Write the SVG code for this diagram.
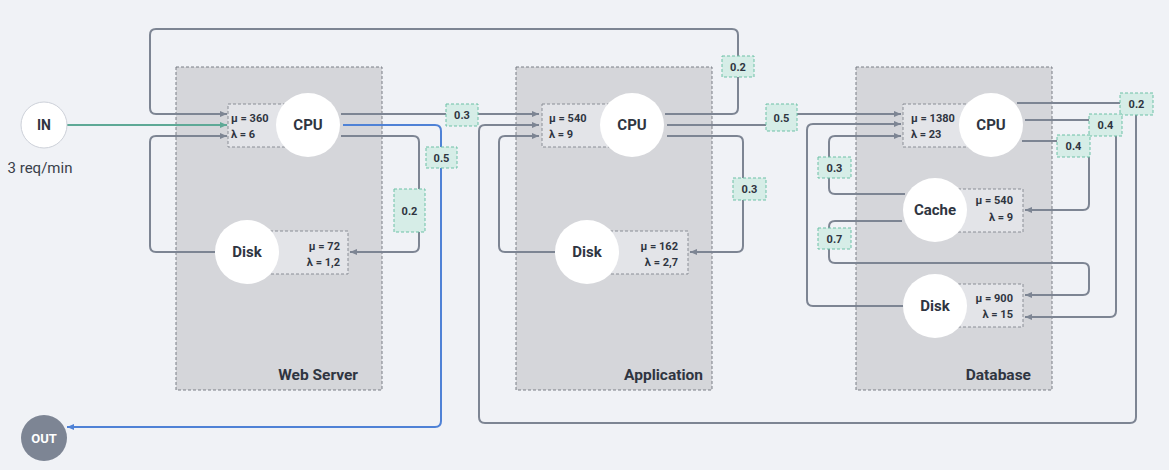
<svg xmlns="http://www.w3.org/2000/svg" width="1169" height="470" viewBox="0 0 1169 470">
<defs>
<style>
.grp{fill:#d5d6da;stroke:#7a7e86;stroke-width:1;stroke-dasharray:3 2}
.lbox{fill:#e3e4e8;stroke:#8a8e96;stroke-width:1;stroke-dasharray:3 2}
.node{fill:#ffffff}
.c{fill:none;stroke:#7d8593;stroke-width:2;marker-end:url(#ag)}
.green{fill:none;stroke:#5ea996;stroke-width:2;marker-end:url(#agr)}
.blue{fill:none;stroke:#4f82d6;stroke-width:2;marker-end:url(#ab)}
.pb{fill:#d6ede7;stroke:#6cc1a6;stroke-width:1;stroke-dasharray:3 2}
text{font-family:Roboto,"Liberation Sans",sans-serif;fill:#2f3541;font-weight:bold}
.t{font-size:11px}
.pt{font-size:11px;text-anchor:middle}
.nt{font-size:15px;text-anchor:middle}
.gt{font-size:15.5px;text-anchor:end}
.r{text-anchor:end}
</style>
<marker id="ag" markerUnits="userSpaceOnUse" markerWidth="8" markerHeight="8" viewBox="0 0 8 8" refX="7" refY="4" orient="auto"><path d="M0,1 L7,4 L0,7 z" fill="#7d8593"/></marker>
<marker id="agr" markerUnits="userSpaceOnUse" markerWidth="8" markerHeight="8" viewBox="0 0 8 8" refX="7" refY="4" orient="auto"><path d="M0,1 L7,4 L0,7 z" fill="#5ea996"/></marker>
<marker id="ab" markerUnits="userSpaceOnUse" markerWidth="8" markerHeight="8" viewBox="0 0 8 8" refX="7" refY="4" orient="auto"><path d="M0,1 L7,4 L0,7 z" fill="#4f82d6"/></marker>
</defs>
<rect width="1169" height="470" fill="#f0f2f6"/>

<g id="web-server">
<rect class="grp" x="176" y="67" width="206" height="323"/>
<text class="gt" x="358" y="380">Web Server</text>
</g>
<g id="application">
<rect class="grp" x="516" y="67" width="196" height="323"/>
<text class="gt" x="703" y="380">Application</text>
</g>
<g id="database">
<rect class="grp" x="856" y="67" width="196" height="323"/>
<text class="gt" x="1031" y="380">Database</text>
</g>

<g id="connectors">
<path class="green" d="M67,125 H227"/>
<path class="c" d="M341,114 H539"/>
<path class="blue" d="M343,125 H435 Q441,125 441,131 V421 Q441,427 435,427 H67"/>
<path class="c" d="M341,136 H413 Q419,136 419,142 V246 Q419,252 413,252 H350"/>
<path class="c" d="M215,252 H156 Q150,252 150,246 V142 Q150,136 156,136 H227"/>
<path class="c" d="M665,114 H732 Q738,114 738,108 V35 Q738,29 732,29 H156 Q150,29 150,35 V108 Q150,114 156,114 H227"/>
<path class="c" d="M667,136 H737 Q743,136 743,142 V246 Q743,252 737,252 H690"/>
<path class="c" d="M555,252 H505 Q499,252 499,246 V142 Q499,136 505,136 H539"/>
<path class="c" d="M667,125 H777 Q781,125 781,121 V118 Q781,114 785,114 H901"/>
<path class="c" d="M1017,103 H1130 Q1136,103 1136,109 V417 Q1136,423 1130,423 H485 Q479,423 479,417 V131 Q479,125 485,125 H539"/>
<path class="c" d="M1025,120 H1110 Q1116,120 1116,126 V311 Q1116,317 1110,317 H1025"/>
<path class="c" d="M1022,141 H1083 Q1089,141 1089,147 V204 Q1089,210 1083,210 H1025"/>
<path class="c" d="M905,194 H835 Q829,194 829,188 V142 Q829,136 835,136 H901"/>
<path class="c" d="M902,221 H835 Q829,221 829,227 V257 Q829,263 835,263 H1083 Q1089,263 1089,269 V289 Q1089,295 1083,295 H1025"/>
<path class="c" d="M905,306 H813 Q807,306 807,300 V130 Q807,124 813,124 H901"/>

<rect class="pb" x="446" y="104" width="32" height="22"/><text class="pt" x="462" y="119">0.3</text>
<rect class="pb" x="426" y="147" width="31" height="21"/><text class="pt" x="441.5" y="161.5">0.5</text>
<rect class="pb" x="394" y="189" width="31" height="43"/><text class="pt" x="409.5" y="214.5">0.2</text>
<rect class="pb" x="722" y="56" width="32" height="21"/><text class="pt" x="738" y="70.5">0.2</text>
<rect class="pb" x="733" y="178" width="33" height="22"/><text class="pt" x="749.5" y="193">0.3</text>
<rect class="pb" x="766" y="104" width="31" height="27"/><text class="pt" x="781.5" y="121.5">0.5</text>
<rect class="pb" x="1120" y="93" width="33" height="22"/><text class="pt" x="1136.5" y="108">0.2</text>
<rect class="pb" x="1089" y="114" width="33" height="22"/><text class="pt" x="1105.5" y="129">0.4</text>
<rect class="pb" x="1057" y="135" width="33" height="22"/><text class="pt" x="1073.5" y="150">0.4</text>
<rect class="pb" x="818" y="157" width="33" height="21"/><text class="pt" x="834.5" y="171.5">0.3</text>
<rect class="pb" x="818" y="228" width="33" height="21"/><text class="pt" x="834.5" y="242.5">0.7</text>
</g>

<g id="in">
<circle cx="44" cy="125" r="23" fill="#ffffff" stroke="#cdd1d9" stroke-width="1"/>
<text class="nt" x="44" y="130" style="font-size:14px">IN</text>
<text x="40" y="173" style="font-size:15px;font-weight:normal;text-anchor:middle;fill:#3a3f4a">3 req/min</text>
</g>
<g id="out">
<circle cx="44" cy="438" r="23" fill="#7d8594"/>
<text x="44" y="443" style="font-size:13px;text-anchor:middle;fill:#ffffff">OUT</text>
</g>

<g id="web-cpu">
<rect class="lbox" x="228" y="104" width="72" height="43"/>
<text class="t" x="231" y="122">μ = 360</text>
<text class="t" x="231" y="138">λ = 6</text>
<circle class="node" cx="308" cy="125" r="32"/>
<text class="nt" x="308" y="130">CPU</text>
</g>
<g id="web-disk">
<rect class="lbox" x="255" y="231" width="93" height="43"/>
<text class="t r" x="340" y="250">μ = 72</text>
<text class="t r" x="340" y="266">λ = 1,2</text>
<circle class="node" cx="247" cy="252" r="32"/>
<text class="nt" x="247" y="257">Disk</text>
</g>
<g id="app-cpu">
<rect class="lbox" x="542" y="104" width="78" height="43"/>
<text class="t" x="549" y="122">μ = 540</text>
<text class="t" x="549" y="138">λ = 9</text>
<circle class="node" cx="632" cy="125" r="32"/>
<text class="nt" x="632" y="130">CPU</text>
</g>
<g id="app-disk">
<rect class="lbox" x="595" y="231" width="93" height="43"/>
<text class="t r" x="678" y="250">μ = 162</text>
<text class="t r" x="678" y="266">λ = 2,7</text>
<circle class="node" cx="587" cy="252" r="32"/>
<text class="nt" x="587" y="257">Disk</text>
</g>
<g id="db-cpu">
<rect class="lbox" x="903" y="104" width="80" height="43"/>
<text class="t" x="911" y="122">μ = 1380</text>
<text class="t" x="911" y="138">λ = 23</text>
<circle class="node" cx="991" cy="125" r="32"/>
<text class="nt" x="991" y="130">CPU</text>
</g>
<g id="db-cache">
<rect class="lbox" x="943" y="189" width="80" height="43"/>
<text class="t r" x="1013" y="204">μ = 540</text>
<text class="t r" x="1013" y="221">λ = 9</text>
<circle class="node" cx="935" cy="210" r="32"/>
<text class="nt" x="935" y="215">Cache</text>
</g>
<g id="db-disk">
<rect class="lbox" x="943" y="284" width="80" height="43"/>
<text class="t r" x="1013" y="302">μ = 900</text>
<text class="t r" x="1013" y="318">λ = 15</text>
<circle class="node" cx="935" cy="306" r="32"/>
<text class="nt" x="935" y="311">Disk</text>
</g>
</svg>
